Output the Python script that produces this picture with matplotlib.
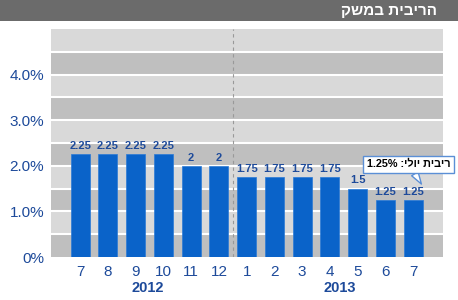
import matplotlib.pyplot as plt
from matplotlib.patches import Rectangle
from matplotlib.transforms import blended_transform_factory

plt.rcParams['font.family'] = ['Liberation Sans', 'DejaVu Sans']

months = ['7', '8', '9', '10', '11', '12', '1', '2', '3', '4', '5', '6', '7']
rates = [2.25, 2.25, 2.25, 2.25, 2.0, 2.0, 1.75, 1.75, 1.75, 1.75, 1.5, 1.25, 1.25]
rate_labels = ['2.25', '2.25', '2.25', '2.25', '2', '2', '1.75', '1.75', '1.75', '1.75', '1.5', '1.25', '1.25']
years = ['2012', '2013']
year_pos = [2.45, 9.35]
y_ticks = [0, 1, 2, 3, 4]
y_tick_labels = ['0%', '1.0%', '2.0%', '3.0%', '4.0%']
title = 'קשמב תיבירה'          # "הריבית במשק" in visual order
note = '1.25% :ילוי תיביר'      # "ריבית יולי: 1.25%" in visual order

blue_txt = '#1d4a9a'

fig = plt.figure(figsize=(4.58, 3.0), dpi=100)
fig.patch.set_facecolor('white')

# title bar
fig.patches.append(Rectangle((0, 0.93), 1, 0.07, transform=fig.transFigure,
                             facecolor='#6b6b6b', edgecolor='none'))
fig.text(0.955, 0.965, title, color='white', fontsize=11, fontweight='bold',
         ha='right', va='center')

ax = fig.add_axes([0.1114, 0.1433, 0.856, 0.76])
ax.set_xlim(-1.05, 13.08)
ax.set_ylim(0, 5)

# striped background
lo = 0.0
i = 0
while lo < 5:
    ax.axhspan(lo, lo + 0.5, facecolor='#bfbfbf' if i % 2 == 0 else '#d9d9d9',
               edgecolor='none', zorder=0)
    if lo > 0:
        ax.axhline(lo, color='white', lw=1.5, zorder=0.5)
    lo += 0.5
    i += 1

ax.axvline(5.5, color='#999999', lw=0.8, ls=(0, (3, 3)), zorder=1)

x = list(range(len(months)))
ax.bar(x, rates, width=0.68, color='#0a63c9', edgecolor='#2a7ad6', lw=0.5, zorder=2)
for xi, r, lab in zip(x, rates, rate_labels):
    ax.text(xi, r + 0.07, lab, ha='center', va='bottom', fontsize=8,
            fontweight='bold', color=blue_txt, zorder=3)

ax.set_xticks(x)
ax.set_xticklabels(months, fontsize=11, color=blue_txt)
ax.set_yticks(y_ticks)
ax.set_yticklabels(y_tick_labels, fontsize=11, color=blue_txt)
ax.tick_params(length=0, pad=6)
ax.tick_params(axis='y', pad=5)
for s in ax.spines.values():
    s.set_visible(False)

tr = blended_transform_factory(ax.transData, ax.transAxes)
for yl, xp in zip(years, year_pos):
    ax.text(xp, -0.137, yl, transform=tr, ha='center', va='center',
            fontsize=10.5, fontweight='bold', color=blue_txt)

ax.annotate(note, xy=(12.3, 1.6), xytext=(11.85, 2.03),
            ha='center', va='center', fontsize=7.8, fontweight='bold', color='black',
            bbox=dict(boxstyle='square,pad=0.35', fc='white', ec='#5b8fd6', lw=1),
            arrowprops=dict(arrowstyle='wedge,tail_width=0.7', fc='white',
                            ec='#5b8fd6', lw=1, shrinkA=0, shrinkB=0),
            zorder=5)

fig.savefig('out.png', dpi=100)
